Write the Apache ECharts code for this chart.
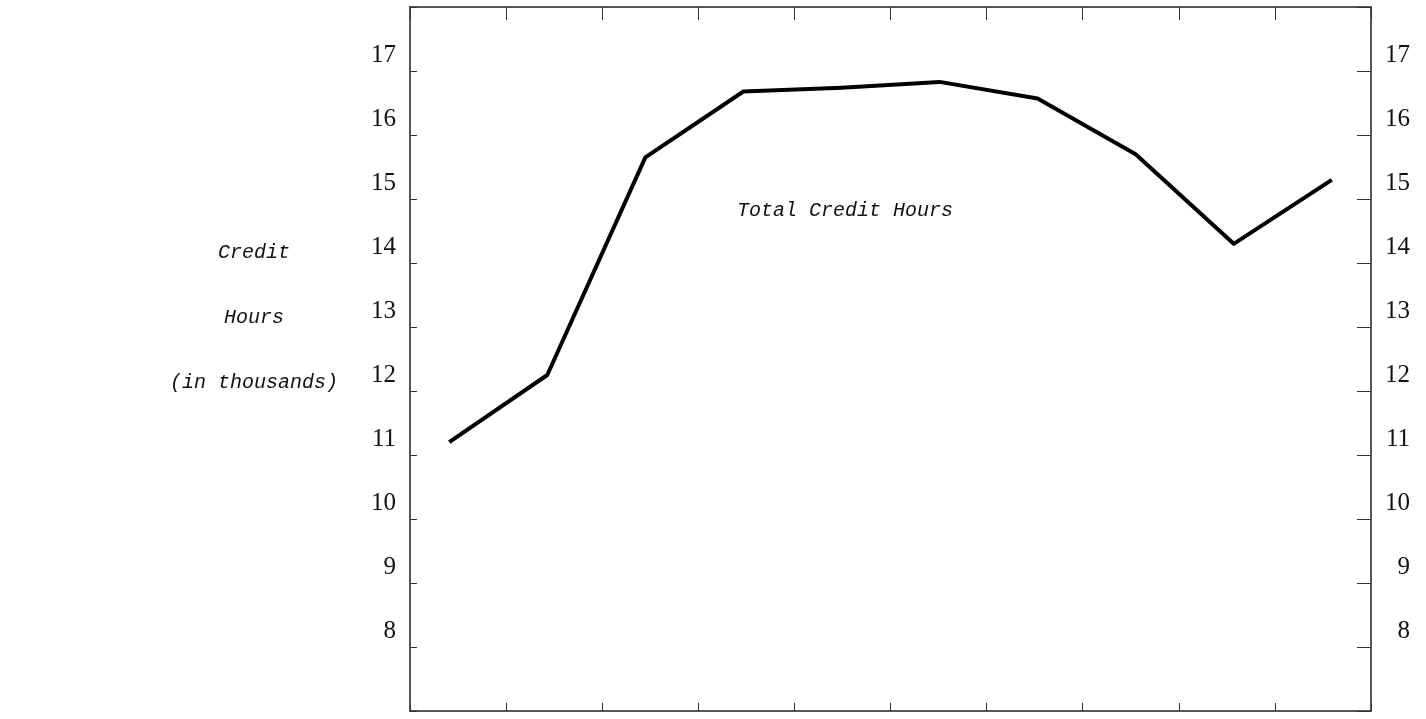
<!DOCTYPE html>
<html>
<head>
<meta charset="utf-8">
<script src="https://cdn.jsdelivr.net/npm/echarts@6/dist/echarts.min.js"></script>
<style>html,body{margin:0;padding:0;background:#fff;}#chart{width:1426px;height:719px;}</style>
</head>
<body>
<div id="chart"></div>
<script>
// ---- data ----
const periods = [1, 2, 3, 4, 5, 6, 7, 8, 9, 10];
const creditHours = [11.2, 12.25, 15.65, 16.68, 16.74, 16.83, 16.57, 15.7, 14.3, 15.3];
const yTickLabels = [8, 9, 10, 11, 12, 13, 14, 15, 16, 17];
const xBands = ['', '', '', '', '', '', '', '', '', ''];
const seriesLabel = 'Total Credit Hours';
const axisTitleLines = ['Credit', 'Hours', '(in thousands)'];

const chart = echarts.init(document.getElementById('chart'), null, {renderer: 'canvas'});
const borderStyle = {color: '#222', width: 1.5};
const labelFont = {fontFamily: 'Liberation Serif', fontSize: 25, color: '#111'};
const typeFont = {fontFamily: 'Liberation Mono', fontStyle: 'italic', fontSize: 20, fill: '#111'};

function yAxisDef(pos, tickLen, margin, align) {
  return {
    type: 'value', position: pos, min: 7, max: 18, interval: 1,
    axisLine: {show: true, onZero: false, lineStyle: borderStyle},
    axisTick: {show: true, inside: true, length: tickLen, lineStyle: {color: '#333', width: 1}},
    splitLine: {show: false},
    axisLabel: Object.assign({
      margin: margin, align: align, verticalAlign: 'bottom', padding: [0, 0, 3, 0],
      showMinLabel: true, showMaxLabel: true,
      formatter: v => yTickLabels.includes(v) ? String(v) : ''
    }, labelFont)
  };
}

const titleY = [253, 318, 383];
chart.setOption({
  animation: false,
  backgroundColor: '#fff',
  grid: {left: 410, right: 55, top: 7, bottom: 8, containLabel: false},
  xAxis: [
    {type: 'value', min: 0.6, max: 10.4, show: false},
    {type: 'category', data: xBands, position: 'bottom', boundaryGap: true,
     axisLine: {show: true, lineStyle: borderStyle},
     axisTick: {show: true, inside: true, length: 8, lineStyle: {color: '#333', width: 1}},
     axisLabel: {show: false}, splitLine: {show: false}},
    {type: 'category', data: xBands, position: 'top', boundaryGap: true,
     axisLine: {show: true, lineStyle: borderStyle},
     axisTick: {show: true, inside: true, length: 13, lineStyle: {color: '#333', width: 1}},
     axisLabel: {show: false}, splitLine: {show: false}}
  ],
  yAxis: [
    yAxisDef('left', 7, 14, 'right'),
    yAxisDef('right', 14, 39, 'right')
  ],
  series: [{
    name: seriesLabel,
    type: 'line',
    xAxisIndex: 0, yAxisIndex: 0,
    data: periods.map((p, i) => [p, creditHours[i]]),
    symbol: 'none',
    lineStyle: {color: '#000', width: 4, join: 'round'}
  }],
  graphic: [
    {type: 'text', left: 737, top: 201, style: Object.assign({text: seriesLabel}, typeFont)}
  ].concat(axisTitleLines.map((t, i) => ({
    type: 'text', x: 254, y: titleY[i],
    style: Object.assign({text: t, align: 'center', verticalAlign: 'middle'}, typeFont)
  })))
});
</script>
</body>
</html>
